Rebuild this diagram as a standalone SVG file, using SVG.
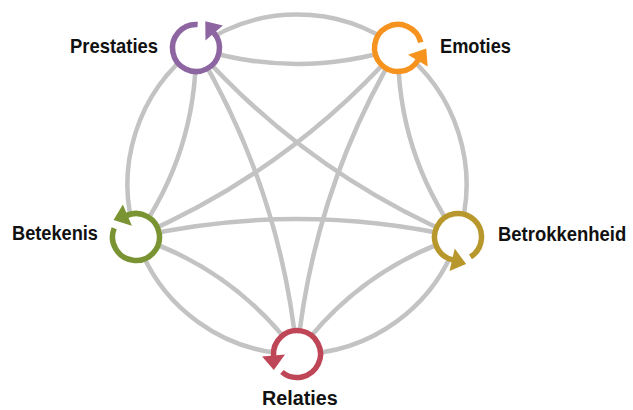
<svg xmlns="http://www.w3.org/2000/svg" width="633" height="410" viewBox="0 0 633 410">
  <style>
    .edge { fill: none; stroke: #c3c3c3; stroke-width: 4.5; stroke-linecap: round; }
    .bg { fill: #ffffff; }
    .ring { fill: none; stroke-width: 5.5; }
    .lbl { font-family: "Liberation Sans", Arial, sans-serif; font-weight: bold; font-size: 21px; fill: #111111; }
  </style>
  <defs>
    <g id="cycle">
      <circle class="bg" cx="0" cy="0" r="26"/>
      <path class="ring" stroke="currentColor" d="M 16.62 -16.62 A 23.5 23.5 0 1 0 23.5 0"/>
      <polygon fill="currentColor" points="12,0.6 35,0.6 24.5,-14"/>
    </g>
  </defs>
  <rect width="633" height="410" fill="#ffffff"/>
  <g id="connectors">
    <!-- outer circle arcs -->
    <path class="edge" d="M 196 48 A 169.5 169.5 0 0 1 398 48"/>
    <path class="edge" d="M 398 48 A 169.5 169.5 0 0 1 458 237"/>
    <path class="edge" d="M 458 237 A 169.5 169.5 0 0 1 297 354"/>
    <path class="edge" d="M 297 354 A 169.5 169.5 0 0 1 136 237"/>
    <path class="edge" d="M 136 237 A 169.5 169.5 0 0 1 196 48"/>
    <!-- inner adjacent curves -->
    <path class="edge" d="M 196 48 Q 297 80 398 48"/>
    <path class="edge" d="M 398 48 Q 397.5 152.2 458 237"/>
    <path class="edge" d="M 458 237 Q 358.7 269.6 297 354"/>
    <path class="edge" d="M 297 354 Q 235.3 269.6 136 237"/>
    <path class="edge" d="M 136 237 Q 196.5 152.2 196 48"/>
    <!-- diagonals -->
    <path class="edge" d="M 196 48 Q 305.9 171.7 458 237"/>
    <path class="edge" d="M 398 48 Q 288.1 171.7 136 237"/>
    <path class="edge" d="M 196 48 Q 280.7 189.7 297 354"/>
    <path class="edge" d="M 398 48 Q 313.3 189.7 297 354"/>
    <path class="edge" d="M 136 237 Q 297 201 458 237"/>
  </g>
  <g id="prestaties">
    <use href="#cycle" transform="translate(196 48) rotate(-41)" color="#8d66a1"/>
    <text class="lbl" transform="translate(70 53) scale(0.877 1)">Prestaties</text>
  </g>
  <g id="emoties">
    <use href="#cycle" transform="translate(398 48) rotate(31)" color="#f6921e"/>
    <text class="lbl" transform="translate(440 53) scale(0.869 1)">Emoties</text>
  </g>
  <g id="betekenis">
    <use href="#cycle" transform="translate(136 237) rotate(-113)" color="#7a9433"/>
    <text class="lbl" transform="translate(12 240) scale(0.867 1)">Betekenis</text>
  </g>
  <g id="betrokkenheid">
    <use href="#cycle" transform="translate(458 237) rotate(103)" color="#b8972c"/>
    <text class="lbl" transform="translate(498 241) scale(0.88 1)">Betrokkenheid</text>
  </g>
  <g id="relaties">
    <use href="#cycle" transform="translate(297 354) rotate(175)" color="#bf4657"/>
    <text class="lbl" transform="translate(262 405) scale(0.94 1)">Relaties</text>
  </g>
</svg>
